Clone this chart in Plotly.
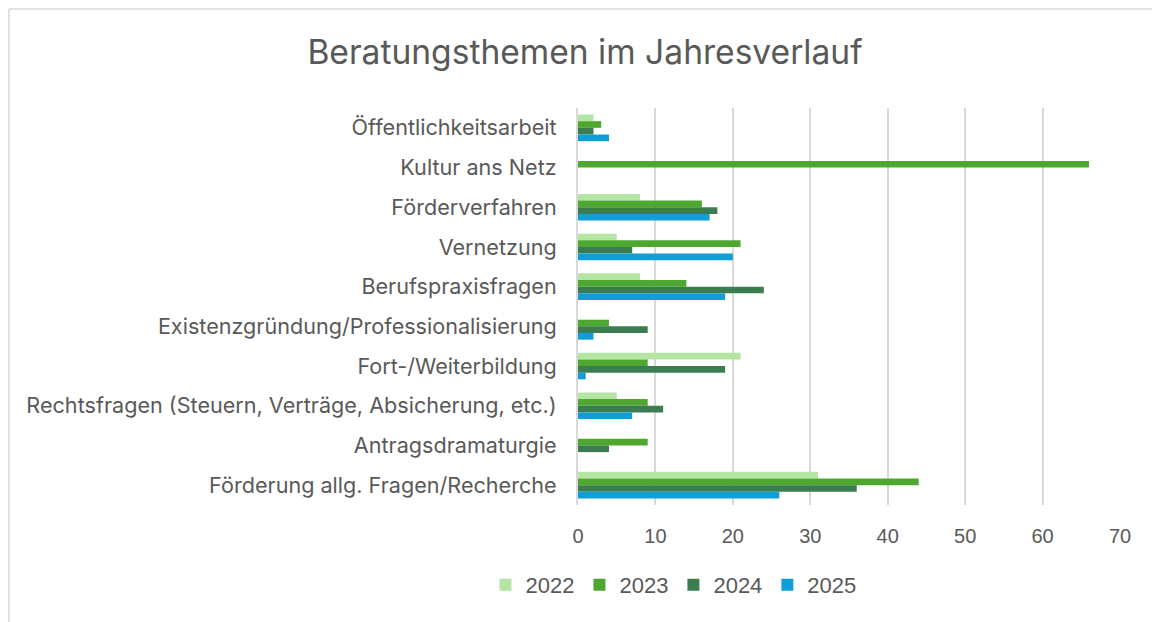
import plotly.graph_objects as go

categories = [
    "Öffentlichkeitsarbeit",
    "Kultur ans Netz",
    "Förderverfahren",
    "Vernetzung",
    "Berufspraxisfragen",
    "Existenzgründung/Professionalisierung",
    "Fort-/Weiterbildung",
    "Rechtsfragen (Steuern, Verträge, Absicherung, etc.)",
    "Antragsdramaturgie",
    "Förderung allg. Fragen/Recherche",
]
years = ["2022", "2023", "2024", "2025"]
v2022 = [2, None, 8, 5, 8, None, 21, 5, None, 31]
v2023 = [3, 66, 16, 21, 14, 4, 9, 9, 9, 44]
v2024 = [2, None, 18, 7, 24, 9, 19, 11, 4, 36]
v2025 = [4, None, 17, 20, 19, 2, 1, 7, None, 26]
colors = ["#B4E5A2", "#4EA72E", "#3B7D50", "#0F9ED5"]

fig = go.Figure()
for name, vals, c in zip(years, [v2022, v2023, v2024, v2025], colors):
    fig.add_trace(go.Bar(y=categories, x=vals, name=name, orientation="h",
                         marker=dict(color=c, line=dict(width=0))))

# page body has an 8px margin; figure coordinates are offset accordingly
W, H = 1152, 614
L, T = 570, 100
R = W - 1112
B = H - 497
pw, ph = W - L - R, H - T - B
fx = lambda px: (px - L) / pw
fy = lambda py: (H - B - py) / ph

fig.update_layout(
    width=W, height=H,
    margin=dict(l=L, r=R, t=T, b=B),
    paper_bgcolor="white", plot_bgcolor="white",
    barmode="group", bargap=0.33, bargroupgap=0,
    font=dict(family="Inter, Open Sans, sans-serif", color="#595959", size=20),
    title=dict(text="Beratungsthemen im Jahresverlauf", x=577 / W, xanchor="center",
               y=1 - 44 / H, yanchor="middle",
               font=dict(family="Inter, sans-serif", size=33.6, color="#595959")),
    xaxis=dict(range=[0, 70], dtick=10, showgrid=True, gridcolor="#D9D9D9", gridwidth=2,
               zeroline=False, showline=False, ticks="", ticklabelstandoff=17,
               tickfont=dict(family="Liberation Sans, Arial, sans-serif", size=20),
               fixedrange=True),
    yaxis=dict(autorange="reversed", showgrid=False, showline=True, linecolor="#D9D9D9",
               linewidth=2, ticks="", ticklabelstandoff=15,
               tickfont=dict(family="Inter, sans-serif", size=21.6)),
    legend=dict(orientation="h", x=665.5 / W, xanchor="center", xref="container",
                y=1 - 577 / H, yref="container", yanchor="middle",
                font=dict(family="Liberation Sans, Arial, sans-serif", size=22),
                itemwidth=30, traceorder="normal"),
    showlegend=True,
    shapes=[
        dict(type="line", xref="paper", yref="paper", x0=fx(1), x1=fx(1), y0=fy(H), y1=fy(1),
             line=dict(color="#D9D9D9", width=1.5)),
        dict(type="line", xref="paper", yref="paper", x0=fx(1), x1=fx(W), y0=fy(1), y1=fy(1),
             line=dict(color="#D9D9D9", width=1.5)),
    ],
)

fig.write_html("out.html")
